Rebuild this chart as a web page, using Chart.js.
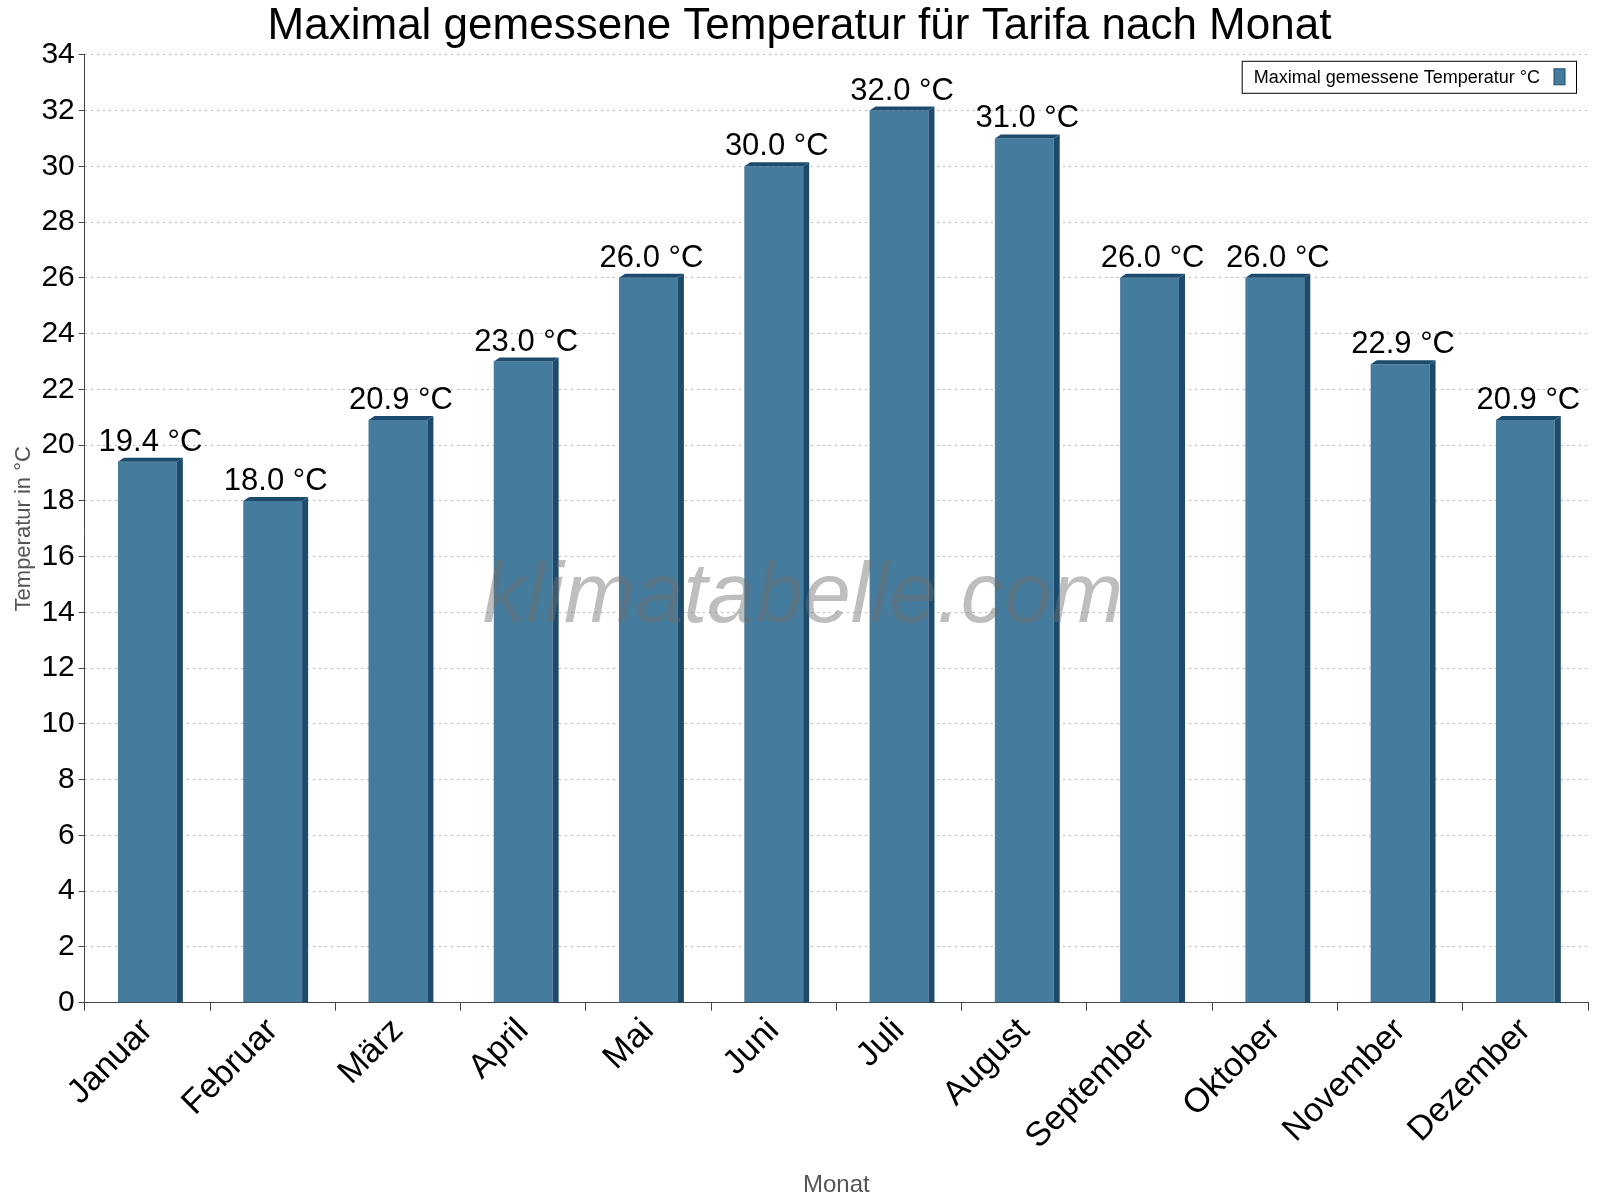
<!DOCTYPE html>
<html><head><meta charset="utf-8">
<script src="https://cdn.jsdelivr.net/npm/chart.js@4/dist/chart.umd.min.js"></script>
<style>html,body{margin:0;padding:0;background:#fff}#w{width:1600px;height:1200px}</style>
</head><body><div id="w"><canvas id="c"></canvas></div>
<script>
const months = ["Januar","Februar","März","April","Mai","Juni","Juli","August","September","Oktober","November","Dezember"];
const maxTemps = [19.4,18.0,20.9,23.0,26.0,30.0,32.0,31.0,26.0,26.0,22.9,20.9];
const seriesLabel = "Maximal gemessene Temperatur °C";
const yTicks = {min:0,max:34,step:2};

const bar3d = {
  id:'bar3d',
  afterDatasetsDraw(chart){
    const ctx=chart.ctx, meta=chart.getDatasetMeta(0), d=6;
    ctx.save();
    meta.data.forEach((b,i)=>{
      const l=b.x-b.width/2, r=b.x+b.width/2, t=b.y, bot=b.base;
      ctx.fillStyle='#1d4b6e';
      ctx.beginPath();ctx.moveTo(r,t);ctx.lineTo(r+d,t-d/1.5);ctx.lineTo(r+d,bot);ctx.lineTo(r,bot);ctx.closePath();ctx.fill();
      ctx.beginPath();ctx.moveTo(l,t);ctx.lineTo(l+d,t-d/1.5);ctx.lineTo(r+d,t-d/1.5);ctx.lineTo(r,t);ctx.closePath();ctx.fill();
      ctx.fillStyle='#000';ctx.font='31px "Liberation Sans", Arial';ctx.textAlign='center';ctx.textBaseline='bottom';
      ctx.fillText(maxTemps[i].toFixed(1)+' °C', b.x+3, t-4);
    });
    const a=chart.chartArea;
    ctx.font='italic 86px "Liberation Sans", Arial';ctx.fillStyle='rgba(110,110,110,0.45)';ctx.textAlign='center';ctx.textBaseline='middle';
    ctx.fillText('klimatabelle.com',803,598);
    ctx.font='18px "Liberation Sans", Arial';ctx.textBaseline='middle';ctx.textAlign='left';
    const tw=ctx.measureText(seriesLabel).width, bw=tw+48, bx=a.right-12-bw, by=a.top+6, bh=32;
    ctx.fillStyle='#fff';ctx.fillRect(bx,by,bw,bh);ctx.strokeStyle='#000';ctx.lineWidth=1;ctx.strokeRect(bx+0.5,by+0.5,bw,bh);
    ctx.fillStyle='#000';ctx.fillText(seriesLabel,bx+12,by+bh/2+1);
    ctx.fillStyle='#457b9d';ctx.fillRect(bx+bw-22,by+8,11,16);ctx.strokeStyle='#1d4b6e';ctx.strokeRect(bx+bw-22,by+8,11,16);
    ctx.restore();
  }
};

new Chart(document.getElementById('c'),{
  type:'bar',
  data:{labels:months,datasets:[{label:seriesLabel,data:maxTemps,backgroundColor:'#457b9d',borderWidth:0,categoryPercentage:1,barPercentage:0.47}]},
  options:{responsive:true,maintainAspectRatio:false,animation:false,
    layout:{padding:{left:11,right:12,top:0,bottom:0}},
    plugins:{legend:{display:false},tooltip:{enabled:false},
      title:{display:true,text:'Maximal gemessene Temperatur für Tarifa nach Monat',font:{size:44,family:'"Liberation Sans", Arial',weight:'normal'},color:'#000',padding:{top:0,bottom:2}}},
    scales:{
      x:{grid:{display:true,drawOnChartArea:false,tickLength:8,color:'#444',offset:true},border:{color:'#444'},
        ticks:{color:'#000',font:{size:34,family:'"Liberation Sans", Arial'},maxRotation:45,minRotation:45,padding:0},
        title:{display:true,text:'Monat',color:'#555',font:{size:24,family:'"Liberation Sans", Arial'},padding:{top:14,bottom:0}}},
      y:{min:yTicks.min,max:yTicks.max,border:{color:'#444',dash:[2,4]},
        ticks:{stepSize:yTicks.step,color:'#000',font:{size:30,family:'"Liberation Sans", Arial'},padding:4},
        grid:{color:'#bbb',tickLength:6,tickColor:'#444',lineWidth:1},
        title:{display:true,text:'Temperatur in °C',color:'#555',font:{size:22,family:'"Liberation Sans", Arial'},padding:0}}
    }
  },
  plugins:[bar3d]
});
</script></body></html>
